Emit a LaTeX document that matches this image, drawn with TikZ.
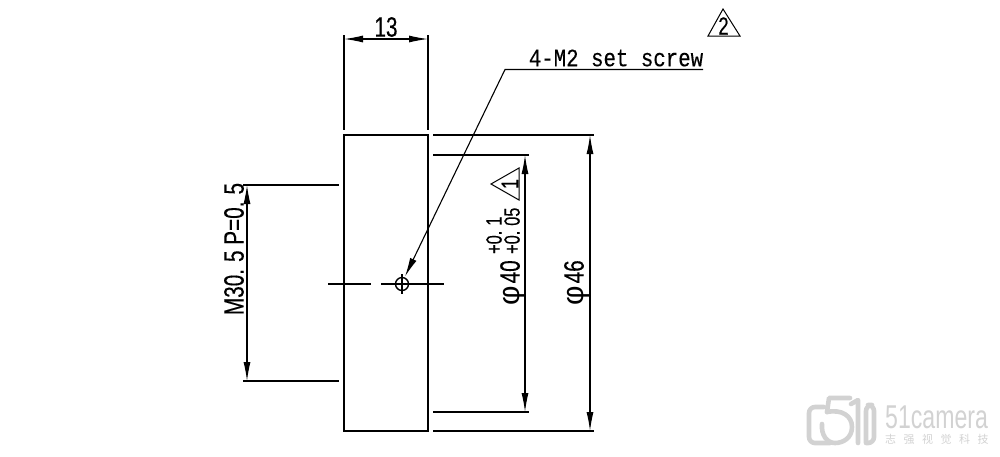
\documentclass[tikz,border=0pt]{standalone}
\usepackage{fontspec}
\setmainfont{Liberation Sans}
\newfontfamily\narrowsans[FakeStretch=0.74,FakeBold=0.25]{Liberation Sans}
\newfontfamily\narrowmono[FakeStretch=0.83,FakeBold=0.25]{Liberation Mono}
\newfontfamily\narrowwm[FakeStretch=0.7]{Liberation Sans}
\newfontfamily\phifont{Liberation Sans}
\newfontfamily\cjkwm{Noto Sans CJK SC}
\usetikzlibrary{arrows.meta}
\definecolor{wm}{HTML}{D2D2D2}
\newcommand{\phisign}{{\phifont\fontsize{30}{30}\selectfont φ}}
\tikzset{
  x=1pt,y=-1pt,
  part/.style={draw=black,line width=1.6pt,minimum width=84pt,minimum height=296pt,inner sep=0pt},
  thin line/.style={draw=black,line width=1.1pt},
  dim/.style={draw=black,line width=1.1pt,{Latex[length=19pt,width=7pt]}-{Latex[length=19pt,width=7pt]}},
  lead/.style={draw=black,line width=1.1pt,-{Latex[length=19pt,width=7pt]}},
  lab/.style={inner sep=0pt,font=\narrowsans\fontsize{28}{28}\selectfont},
  labr/.style={lab,rotate=90},
  tol/.style={inner sep=0pt,rotate=90,font=\narrowsans\fontsize{22}{22}\selectfont},
  mono/.style={inner sep=0pt,font=\narrowmono\fontsize{25}{25}\selectfont},
  wmline/.style={draw=wm,line width=4.6pt,line cap=round,line join=round},
}
\begin{document}
\begin{tikzpicture}
\useasboundingbox (0,0) rectangle (1000,456);
% part
\node[part] (body) at (386,283) {};
% coordinates
\coordinate (e13a) at (344,35);   \coordinate (e13b) at (344,130);
\coordinate (e13c) at (428,35);   \coordinate (e13d) at (428,130);
\coordinate (d13a) at (344,39);   \coordinate (d13b) at (428,39);
\coordinate (e46a) at (433,135);  \coordinate (e46b) at (594,135);
\coordinate (e46c) at (433,431);  \coordinate (e46d) at (594,431);
\coordinate (d46a) at (590,135);  \coordinate (d46b) at (590,431);
\coordinate (e40a) at (433,155);  \coordinate (e40b) at (529,155);
\coordinate (e40c) at (433,412);  \coordinate (e40d) at (529,412);
\coordinate (d40a) at (525,155);  \coordinate (d40b) at (525,412);
\coordinate (eMa) at (243,185);   \coordinate (eMb) at (339,185);
\coordinate (eMc) at (243,381);   \coordinate (eMd) at (339,381);
\coordinate (dMa) at (247,185);   \coordinate (dMb) at (247,381);
\coordinate (cl1) at (328,284);   \coordinate (cl2) at (371,284);
\coordinate (cl3) at (381,284);   \coordinate (cl4) at (444,284);
\coordinate (cl5) at (402,274);   \coordinate (cl6) at (402,294);
\coordinate (ldr1) at (703,69.5); \coordinate (ldr2) at (505,69.5);
\coordinate (ldr3) at (405,276.5);
% extension lines
\draw[thin line] (e13a)--(e13b) (e13c)--(e13d);
\draw[thin line] (e46a)--(e46b) (e46c)--(e46d);
\draw[thin line] (e40a)--(e40b) (e40c)--(e40d);
\draw[thin line] (eMa)--(eMb) (eMc)--(eMd);
% dimensions
\draw[dim] (d13a)--(d13b);
\draw[dim] (d46a)--(d46b);
\draw[dim] (d40a)--(d40b);
\draw[dim] (dMa)--(dMb);
% centre lines and hole
\draw[thin line] (cl1)--(cl2) (cl3)--(cl4) (cl5)--(cl6);
\node[draw=black,line width=1.4pt,circle,minimum size=13pt,inner sep=0pt] (hole) at (402,284) {};
% leader
\draw[lead] (ldr1)--(ldr2)--(ldr3);
% labels
\node[lab] (t13) at (386,27) {13};
\node[mono] (tscrew) at (616,58) {4-M2 set screw};
\node[labr] (tM) at (234,249) {M30.\hspace{7pt}5 P=0.\hspace{7pt}5};
\node[labr,anchor=west] (t40) at (513,306) {\phisign\hspace{3pt}40};
\node[labr,anchor=west] (t46) at (577,306) {\phisign\hspace{3pt}46};
\node[tol,anchor=west] (tp) at (494,254) {+0.\hspace{5pt}1};
\node[tol,anchor=west] (tm) at (512,254) {+0.\hspace{5pt}05};
% revision triangles
\draw[line width=1pt,line join=miter] (491,184)--(519,168)--(519,200)--cycle;
\node[tol,font=\narrowsans\fontsize{24}{24}\selectfont] (n1) at (510,184) {1};
\draw[line width=1pt,line join=miter] (723,9)--(708,36)--(740,36)--cycle;
\node[inner sep=0pt,font=\narrowsans\fontsize{25}{25}\selectfont] (n2) at (723.5,26) {2};
% watermark
\draw[wmline,rounded corners=6pt] (824,407)--(809,407)--(809,443)--(830,443);
\draw[wmline] (850,398)--(829,398)--(827,412);
\draw[wmline] (827,412) .. controls (842,409) and (852,416) .. (852,427)
   .. controls (852,438) and (843,443) .. (835,443)
   .. controls (827,443) and (821,435) .. (822,424);
\draw[wmline] (851,404)--(858,400)--(858,443);
\draw[wmline,rounded corners=6pt] (866,443)--(866,405)--(874,405)--(874,443)--(866,443);
\node[inner sep=0pt,text=wm,anchor=west,font=\narrowwm\fontsize{33}{33}\selectfont] (wm1) at (885,417) {51camera};
\node[inner sep=0pt,text=wm,anchor=west,font=\cjkwm\fontsize{11}{11}\selectfont] (wm2) at (885,439) {志\hspace{7.5pt}强\hspace{7.5pt}视\hspace{7.5pt}觉\hspace{7.5pt}科\hspace{7.5pt}技};
\end{tikzpicture}
\end{document}
